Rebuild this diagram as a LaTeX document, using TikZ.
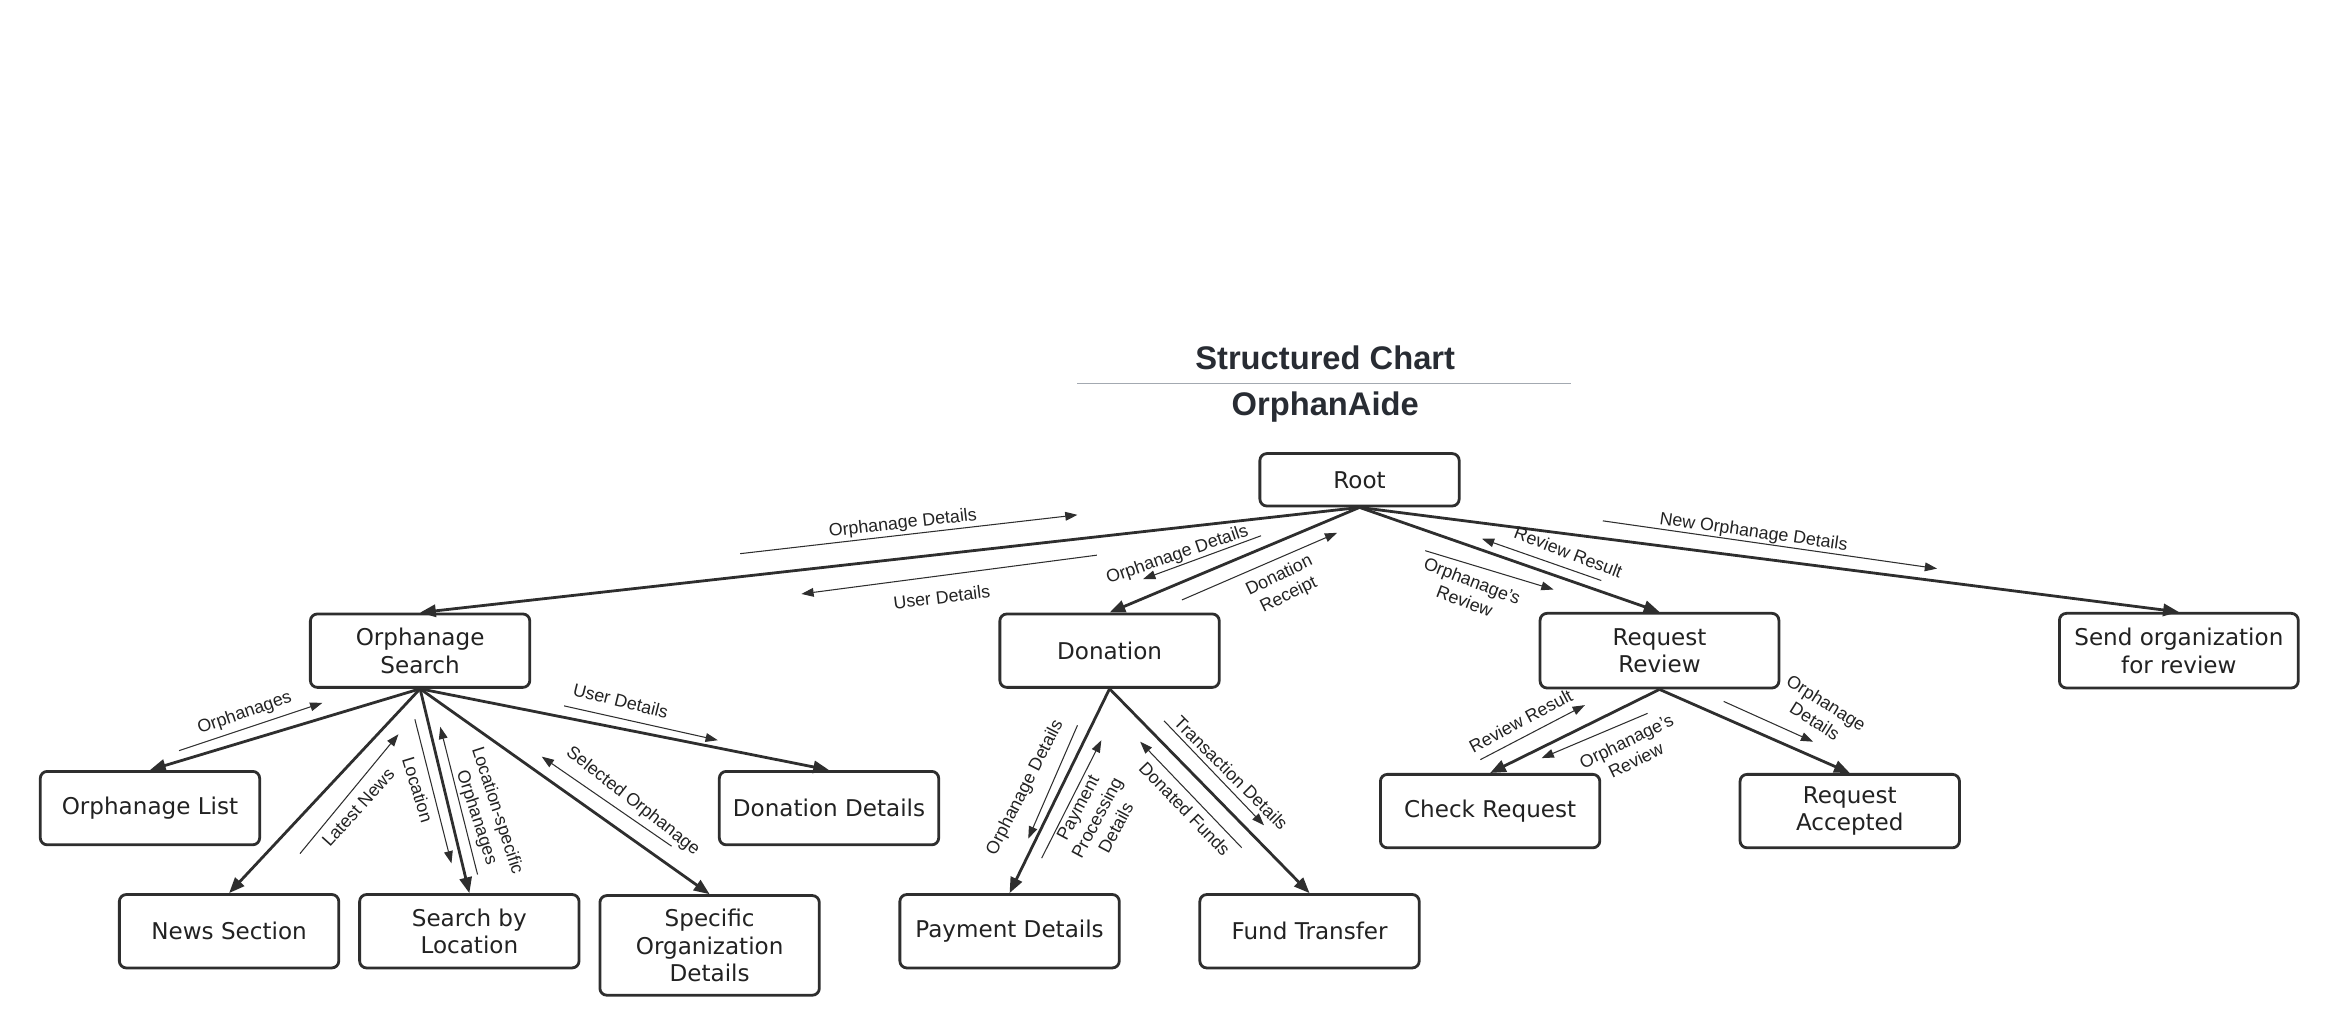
\documentclass[tikz,border=0pt]{standalone}
\usepackage{fontspec}
\setmainfont{Liberation Sans}
\newfontfamily\boxfont{DejaVu Sans}
\usepackage{xcolor}
\usepackage{tikz}
\usetikzlibrary{arrows.meta}
\definecolor{ink}{HTML}{222222}
\definecolor{linec}{HTML}{2E2E2E}
\definecolor{titlec}{HTML}{282C33}
\definecolor{rulec}{HTML}{A3A9B1}
\tikzset{
  box/.style={draw=linec, line width=1.6pt, rounded corners=4pt, fill=white, text=ink,
    font=\boxfont\fontsize{13.2}{15.8}\selectfont, align=center,
    minimum width=125.5pt, minimum height=42pt, inner sep=0pt},
  wide/.style={minimum width=136.6pt, minimum height=42.7pt},
  link/.style={draw=linec, line width=1.6pt, -{Triangle[length=9pt,width=7pt]}},
  flow/.style={draw=linec, line width=0.6pt, -{Triangle[length=7pt,width=5pt]}},
  flab/.style={text=ink, font=\fontsize{10.2}{12.3}\selectfont, align=center, inner sep=0pt},
  ttl/.style={text=titlec, font=\bfseries\fontsize{18.7}{22}\selectfont},
}

\begin{document}
\begin{tikzpicture}[x=0.03cm, y=-0.03cm]
  \useasboundingbox (0,0) rectangle (1568,694);
  % heading
  \node[ttl] (chart) at (888,240) {Structured Chart};
  \coordinate (rulel) at (722,257);
  \coordinate (ruler) at (1053,257);
  \draw[draw=rulec, line width=0.8pt] (rulel) -- (ruler);
  \node[ttl] (app) at (888,273) {OrphanAide};

  % modules
  \node[box, minimum width=114pt, minimum height=30pt] (root) at (911,321.5) {Root};
  \node[box] (osearch) at (281.5,436) {Orphanage\\Search};
  \node[box] (donation) at (743.5,436) {Donation};
  \node[box, wide] (review) at (1112,436) {Request\\Review};
  \node[box, wide] (sendorg) at (1460,436) {Send organization\\for review};
  \node[box] (olist) at (100.5,541.5) {Orphanage List};
  \node[box] (ddetails) at (555.5,541.5) {Donation Details};
  \node[box] (news) at (153.5,624) {News Section};
  \node[box] (byloc) at (314.5,624) {Search by\\Location};
  \node[box, minimum height=57pt] (specorg) at (475.5,633.5) {Specific\\Organization\\Details};
  \node[box] (payment) at (676.5,624) {Payment Details};
  \node[box] (transfer) at (877.5,624) {Fund Transfer};
  \node[box] (check) at (998.5,543.5) {Check Request};
  \node[box] (accepted) at (1239.5,543.5) {Request\\Accepted};

  % calls
  \draw[link] (root.south) -- (osearch.north);
  \draw[link] (root.south) -- (donation.north);
  \draw[link] (root.south) -- (review.north);
  \draw[link] (root.south) -- (sendorg.north);
  \draw[link] (osearch.south) -- (olist.north);
  \draw[link] (osearch.south) -- (news.north);
  \draw[link] (osearch.south) -- (byloc.north);
  \draw[link] (osearch.south) -- (specorg.north);
  \draw[link] (osearch.south) -- (ddetails.north);
  \draw[link] (donation.south) -- (payment.north);
  \draw[link] (donation.south) -- (transfer.north);
  \draw[link] (review.south) -- (check.north);
  \draw[link] (review.south) -- (accepted.north);

  % data flows
  \draw[flow] (496,371) coordinate (f1s) -- (722,345) coordinate (f1e);
  \node[flab, rotate=6.5] (l1) at (605,351) {Orphanage Details};
  \draw[flow] (735,372) coordinate (f2s) -- (537,398) coordinate (f2e);
  \node[flab, rotate=7] (l2) at (631,400) {User Details};
  \draw[flow] (845,359) coordinate (f3s) -- (766,388) coordinate (f3e);
  \node[flab, rotate=19] (l3) at (789,372) {Orphanage Details};
  \draw[flow] (792,402) coordinate (f4s) -- (896,357) coordinate (f4e);
  \node[flab, rotate=26] (l4) at (860.5,392.5) {Donation\\Receipt};
  \draw[flow] (955,369) coordinate (f5s) -- (1041,395) coordinate (f5e);
  \node[flab, rotate=-21] (l5) at (984,396) {Orphanage's\\Review};
  \draw[flow] (1073,389) coordinate (f6s) -- (993,361) coordinate (f6e);
  \node[flab, rotate=-21] (l6) at (1051,370) {Review Result};
  \draw[flow] (1074,349) coordinate (f7s) -- (1298,381) coordinate (f7e);
  \node[flab, rotate=-8] (l7) at (1175,357) {New Orphanage Details};
  \draw[flow] (120,503) coordinate (f8s) -- (216,471) coordinate (f8e);
  \node[flab, rotate=19] (l8) at (164,478) {Orphanages};
  \draw[flow] (378,473) coordinate (f9s) -- (481,496) coordinate (f9e);
  \node[flab, rotate=-14] (l9) at (416,469.5) {User Details};
  \draw[flow] (201,572) coordinate (f10s) -- (267,492) coordinate (f10e);
  \node[flab, rotate=48] (l10) at (240,541) {Latest News};
  \draw[flow] (278,482) coordinate (f11s) -- (302.5,578.5) coordinate (f11e);
  \node[flab, rotate=-73] (l11) at (280,529) {Location};
  \draw[flow] (320,586) coordinate (f12s) -- (295,487) coordinate (f12e);
  \node[flab, rotate=-72] (l12) at (326,545.5) {Location-specific\\Orphanages};
  \draw[flow] (450,567) coordinate (f13s) -- (363,507) coordinate (f13e);
  \node[flab, rotate=-38] (l13) at (424,537) {Selected Orphanage};
  \draw[flow] (722,486) coordinate (f14s) -- (689,562) coordinate (f14e);
  \node[flab, rotate=63] (l14) at (687,528) {Orphanage Details};
  \draw[flow] (698,575) coordinate (f15s) -- (738,496) coordinate (f15e);
  \node[flab, rotate=62] (l15) at (735,548) {Payment\\Processing\\Details};
  \draw[flow] (780,483) coordinate (f16s) -- (847,553) coordinate (f16e);
  \node[flab, rotate=-45] (l16) at (825,518) {Transaction Details};
  \draw[flow] (832,568) coordinate (f17s) -- (764,497) coordinate (f17e);
  \node[flab, rotate=-46] (l17) at (794,542) {Donated Funds};
  \draw[flow] (992,509) coordinate (f18s) -- (1062,472.5) coordinate (f18e);
  \node[flab, rotate=28] (l18) at (1019,483) {Review Result};
  \draw[flow] (1104,478) coordinate (f19s) -- (1033,508) coordinate (f19e);
  \node[flab, rotate=26] (l19) at (1093,503) {Orphanage's\\Review};
  \draw[flow] (1155,470) coordinate (f20s) -- (1215,497) coordinate (f20e);
  \node[flab, rotate=-32] (l20) at (1220,477) {Orphanage\\Details};
\end{tikzpicture}
\end{document}
